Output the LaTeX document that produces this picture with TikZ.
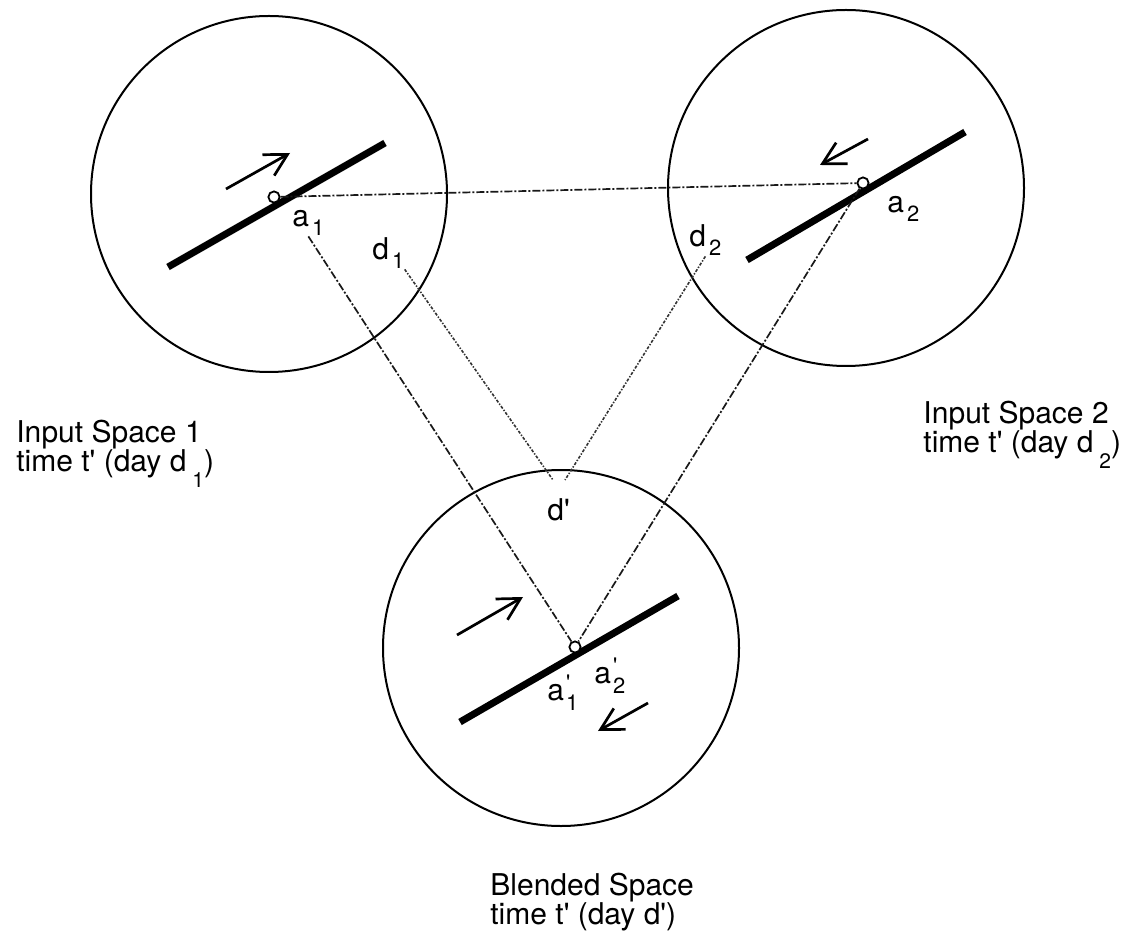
\documentclass[tikz,border=0pt]{standalone}
\usepackage{fontspec}
\setmainfont{TeX Gyre Heros}
\usetikzlibrary{arrows.meta}

\newcommand\pr{\textquotesingle}
\newcommand\lsub[1]{\hspace{1.5pt}\raisebox{-4.5pt}{\fontsize{11}{11}\selectfont #1}}
\newcommand\lsubp[1]{\hspace{1pt}\rlap{\raisebox{5pt}{\fontsize{11}{11}\selectfont\pr}}\raisebox{-5pt}{\fontsize{11}{11}\selectfont #1}}
\newcommand\csub[1]{\hspace{3pt}\raisebox{-8pt}{\fontsize{10.5}{10.5}\selectfont #1}}

\begin{document}
\begin{tikzpicture}[x=0.5pt,y=-0.5pt,
  font=\fontsize{15}{14.3}\selectfont,
  space/.style={draw, circle, line width=1pt, minimum size=178pt, inner sep=0pt},
  track/.style={line width=3.5pt},
  spot/.style={draw, circle, fill=white, line width=0.9pt, minimum size=5.6pt, inner sep=0pt},
  move/.style={line width=1.35pt, -{Straight Barb[length=11pt,width=12pt]}},
  lbl/.style={anchor=base west, inner sep=0pt},
  caption/.style={anchor=north west, align=left, inner sep=0pt},
  aline/.style={line width=0.85pt, black!90, dash pattern=on 4pt off 1pt on 1pt off 1pt},
  dline/.style={line width=0.8pt, black!80, dash pattern=on 1.5pt off 0.8pt on 0.7pt off 0.8pt}]
  \useasboundingbox (0,0) rectangle (1128,940);

  % the three spaces
  \node[space] (space1) at (269,194) {};
  \node[space] (space2) at (846,188) {};
  \node[space] (blend) at (561,648) {};

  % Input space 1
  \draw[track] (168,267) -- (385,143);
  \draw[move] (226,189) -- (290,153);
  \node[spot] (a1pt) at (274,197) {};
  \node[lbl] (la1) at (292,227) {a\lsub{1}};
  \node[lbl] (ld1) at (372,260) {d\lsub{1}};

  % Input space 2
  \draw[track] (747,260) -- (965,132);
  \draw[move] (868,139) -- (820,165);
  \node[spot] (a2pt) at (863,183) {};
  \node[lbl] (la2) at (887,213) {a\lsub{2}};
  \node[lbl] (ld2) at (689,247) {d\lsub{2}};

  % Blended space
  \draw[track] (460,722) -- (678,596);
  \draw[move] (457,635) -- (523,597);
  \draw[move] (648,703) -- (598,731);
  \node[spot] (bpt) at (575,647) {};
  \node[lbl] (lb1) at (547,700) {a\lsubp{1}};
  \node[lbl] (lb2) at (594,683) {a\lsubp{2}};
  \node[lbl] (ldb) at (547,520) {d\pr};
  \coordinate (dl) at (553,480);
  \coordinate (dr) at (565,480);

  % mappings
  \draw[aline] (a1pt) -- (a2pt);
  \draw[aline] (la1.south) -- (bpt);
  \draw[aline] (a2pt) -- (bpt);
  \draw[dline] (ld1.south east) -- (dl);
  \draw[dline] (ld2.south) -- (dr);

  % captions
  \node[caption] (cap1) at (16,420) {Input Space 1\\time t\pr{} (day d\csub{1})};
  \node[caption] (cap2) at (923,401) {Input Space 2\\time t\pr{} (day d\csub{2})};
  \node[caption] (cap3) at (490,873) {Blended Space\\time t\pr{} (day d\pr)};
\end{tikzpicture}
\end{document}
